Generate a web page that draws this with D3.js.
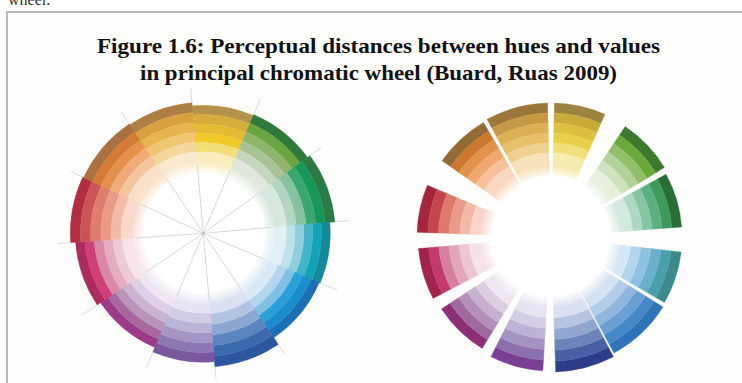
<!DOCTYPE html>
<html>
<head>
<meta charset="utf-8">
<script src="https://cdn.jsdelivr.net/npm/d3@7"></script>
<style>
  html, body { margin: 0; padding: 0; background: #ffffff; }
  svg { display: block; }
</style>
</head>
<body>
<script>
// ---------- DATA ----------
const titleLines = [
  "Figure 1.6: Perceptual distances between hues and values",
  "in principal chromatic wheel (Buard, Ruas 2009)"
];
const precedingText = "wheel.";
const hues = ["yellow", "yellow-green", "green", "teal", "blue", "navy",
              "violet", "purple", "crimson", "red", "orange", "ochre"];
const valueSteps = [1, 2, 3, 4, 5, 6]; // value levels, darkest (outer) to lightest (inner)

// Left wheel (principal chromatic wheel): hue sector angles (deg) and radial extent (units)
const leftStart = [-5, 23, 54, 85, 113, 146, 175, 203, 236, 266, 295, 326];
const leftEnd   = [23, 54, 85, 113, 146, 175, 203, 236, 266, 295, 326, 355];
const leftOuter = [128, 129, 132, 127, 126, 134, 129, 124, 128, 133, 132, 131];
const leftInner = [72, 72, 74, 74, 72, 70, 70, 70, 72, 72, 74, 72];

// Right wheel (perceptual distances): hue sector angles (deg) and radial extent (units)
const rightStart = [1.5, 33.9, 61.4, 96.6, 122, 152.5, 183.5, 211.7, 242.5, 272, 305, 331.5];
const rightEnd   = [23.7, 58.5, 85.6, 120, 151.5, 178, 206.6, 236.7, 265, 292.7, 329.5, 358.5];
const rightOuter = [134, 133, 131, 131, 132, 135, 134, 131, 133, 134, 133, 134];
const rightInner = [74, 72, 72, 70, 70, 70, 70, 70, 72, 70, 72, 74];

// ---------- STYLES ----------
const leftColors = [
  ["#b5924a", "#d6ac3c", "#e4bb35", "#eec928", "#f4de78", "#f9edbb"],
  ["#2e7a3a", "#6aa63f", "#8fb56c", "#a8c496", "#c4d6bd", "#dfe8da"],
  ["#2c7a44", "#17985a", "#3ba770", "#86c29f", "#b1d5c0", "#d6e8de"],
  ["#13899a", "#14a2b6", "#42b6c8", "#8fcfdc", "#bde2ea", "#e0f1f5"],
  ["#1d6fb4", "#1b8ccc", "#2aa0da", "#80c0e4", "#b3d6ee", "#d9eaf6"],
  ["#2c579f", "#3c6aae", "#5b85bf", "#8ba6d0", "#b3c4e2", "#d8e1f0"],
  ["#7a579e", "#8c78b2", "#a396c5", "#bcb4d7", "#d2cde5", "#e7e4f1"],
  ["#9c3a8c", "#a9679f", "#b895b9", "#cab4d0", "#ddd0e4", "#eee7f2"],
  ["#ad2b5e", "#cf3f78", "#d789a6", "#e3acc0", "#eecad6", "#f7e4eb"],
  ["#b22e40", "#cc5458", "#df7d6c", "#ea9b88", "#f2bba8", "#f8dacd"],
  ["#a8713f", "#d47b36", "#e6914b", "#f0ab78", "#f5c5a0", "#fae0c9"],
  ["#ad7f44", "#d9a03f", "#e8b450", "#f0c673", "#f5d89e", "#faeacd"]
];
const rightColors = [
  ["#9b8440", "#c9ab3a", "#dcc040", "#e8d04a", "#f0df7a", "#f7ecb0"],
  ["#3d7a2e", "#6aa83a", "#93bf6a", "#b3d19a", "#cfe2c0", "#e6f0dd"],
  ["#2a6e35", "#3d9a5c", "#5bb080", "#85c6a2", "#aed8c2", "#d2e9dd"],
  ["#3c8a8c", "#4a9fad", "#6ab0cc", "#8dc3e0", "#b2d5ec", "#d6e8f5"],
  ["#2f74b8", "#4488c8", "#6a9fd3", "#8fb6de", "#b3cce8", "#d5e2f3"],
  ["#2e3d8a", "#4960a6", "#6d84bb", "#93a6cf", "#b7c4e2", "#d8e0f1"],
  ["#7a3f95", "#8b6fae", "#a394c4", "#bdb3d7", "#d4cde6", "#e8e4f2"],
  ["#8a2f78", "#9f6a9f", "#b38fb9", "#c8b1d0", "#dccfe3", "#eee7f2"],
  ["#a3234f", "#c23a6e", "#d67f9e", "#e2a6bb", "#edc6d3", "#f6e2ea"],
  ["#a5263c", "#c2464f", "#de7a6c", "#e99a88", "#f2b8a8", "#f8d6cb"],
  ["#946a35", "#c9782e", "#e2924a", "#f0a870", "#f5c09a", "#fad8c0"],
  ["#9b7638", "#c69a45", "#dcb055", "#e8c06a", "#f0d090", "#f7e2bc"]
];

// ---------- LAYOUT ----------
const W = 742, H = 383;
const svg = d3.select("body").append("svg").attr("width", W).attr("height", H);

// preceding page text (cut at top in the scan)
svg.append("text")
  .attr("x", 8).attr("y", 5)
  .attr("font-family", "'Liberation Serif', 'Times New Roman', serif")
  .attr("font-size", 16)
  .attr("fill", "#333")
  .text(precedingText);

// frame
svg.append("rect").attr("x", 7).attr("y", 12).attr("width", W).attr("height", H)
  .attr("fill", "#fdfdfb").attr("stroke", "#a8a8a8").attr("stroke-width", 1.6);

// title
const titleY = [53, 80];
const titleW = [563, 477];
titleLines.forEach((t, i) => {
  svg.append("text")
    .attr("x", 378.5).attr("y", titleY[i])
    .attr("text-anchor", "middle")
    .attr("font-family", "'Liberation Serif', 'Times New Roman', serif")
    .attr("font-weight", "bold")
    .attr("font-size", 21)
    .attr("fill", "#111")
    .attr("textLength", titleW[i])
    .attr("lengthAdjust", "spacingAndGlyphs")
    .text(t);
});

const angle = d3.scaleLinear().domain([0, 360]).range([0, 2 * Math.PI]);
const radius = d3.scaleLinear().domain([0, 100]).range([0, 100]);
const arc = d3.arc();
const defs = svg.append("defs");

function drawWheel(cx, cy, starts, ends, outers, inners, colors, withLines, id) {
  const g = svg.append("g").attr("transform", `translate(${cx},${cy})`);

  const lineExt = 146;
  if (withLines) {
    g.append("g").selectAll("line").data(starts).join("line")
      .attr("x1", 0).attr("y1", 0)
      .attr("x2", d => radius(lineExt) * Math.sin(angle(d)))
      .attr("y2", d => -radius(lineExt) * Math.cos(angle(d)))
      .attr("stroke", "#dcdcdc").attr("stroke-width", 1);
  }

  // bands: for each hue sector, one ring per value step
  const bands = [];
  hues.forEach((h, i) => {
    const n = valueSteps.length;
    const step = (outers[i] - inners[i]) / n;
    valueSteps.forEach((v, j) => {
      bands.push({
        start: starts[i], end: ends[i],
        r1: outers[i] - step * j,
        r0: j === n - 1 ? inners[i] - 12 : outers[i] - step * (j + 1),
        color: colors[i][j]
      });
    });
  });
  g.append("g").selectAll("path").data(bands).join("path")
    .attr("d", d => arc({
      innerRadius: radius(d.r0), outerRadius: radius(d.r1),
      startAngle: angle(d.start), endAngle: angle(d.end)
    }))
    .attr("fill", d => d.color)
    .attr("stroke", d => d.color).attr("stroke-width", 0.4);

  // white fade at centre
  const fadeR = d3.mean(inners);
  const grad = defs.append("radialGradient").attr("id", id)
    .attr("gradientUnits", "userSpaceOnUse").attr("cx", 0).attr("cy", 0).attr("r", radius(fadeR));
  grad.append("stop").attr("offset", 0).attr("stop-color", "#ffffff").attr("stop-opacity", 1);
  grad.append("stop").attr("offset", 0.82).attr("stop-color", "#ffffff").attr("stop-opacity", 1);
  grad.append("stop").attr("offset", 1).attr("stop-color", "#ffffff").attr("stop-opacity", 0);
  g.append("circle").attr("r", radius(fadeR)).attr("fill", `url(#${id})`);

  if (withLines) {
    g.append("g").selectAll("line").data(starts).join("line")
      .attr("x1", 0).attr("y1", 0)
      .attr("x2", d => radius(fadeR - 4) * Math.sin(angle(d)))
      .attr("y2", d => -radius(fadeR - 4) * Math.cos(angle(d)))
      .attr("stroke", "#d4d4d4").attr("stroke-width", 0.9);
    g.append("circle").attr("r", 1.2).attr("fill", "#bbb");
  }
}

drawWheel(203.3, 233.3, leftStart, leftEnd, leftOuter, leftInner, leftColors, true, "fadeL");
drawWheel(551, 237, rightStart, rightEnd, rightOuter, rightInner, rightColors, false, "fadeR");
</script>
</body>
</html>
